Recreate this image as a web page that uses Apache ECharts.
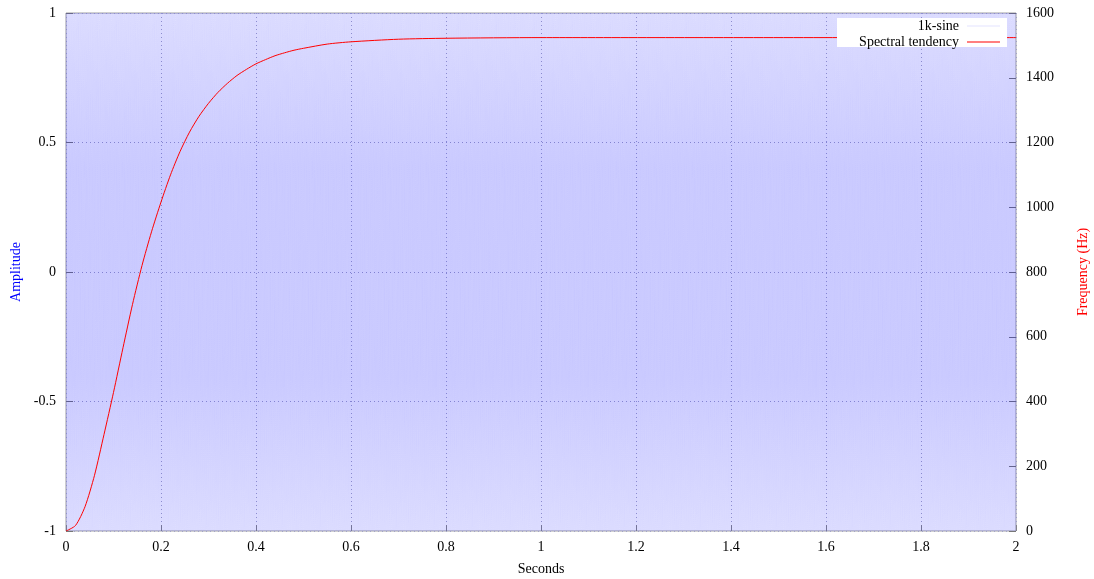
<!DOCTYPE html>
<html>
<head>
<meta charset="utf-8">
<script src="https://cdn.jsdelivr.net/npm/echarts@6/dist/echarts.min.js"></script>
<style>html,body{margin:0;padding:0;background:#fff}#c{width:1094px;height:579px}</style>
</head>
<body>
<div id="c"></div>
<script>
// ---- data ----
const xTicks = [0, 0.2, 0.4, 0.6, 0.8, 1, 1.2, 1.4, 1.6, 1.8, 2];
const ampTicks = [-1, -0.5, 0, 0.5, 1];
const freqTicks = [0, 200, 400, 600, 800, 1000, 1200, 1400, 1600];

// 1k-sine: one period swings 0 -> +1 -> 0 -> -1, 1000 cycles per second over 2 s
const sineCycleShape = [0, 1, 0, -1];
const sineCyclesPerSecond = 1000;
const sineDurationSeconds = 2;

// Spectral tendency (Hz) vs time (s)
const specTime = [0, 0.02, 0.04, 0.06, 0.08, 0.1, 0.12, 0.14, 0.16, 0.18, 0.2, 0.22, 0.24, 0.26, 0.28, 0.3, 0.32, 0.34, 0.36, 0.38, 0.4, 0.42, 0.44, 0.46, 0.48, 0.5, 0.55, 0.6, 0.7, 0.8, 1.0, 2.0];
const specHz   = [0, 17, 75, 172, 298, 428, 566, 700, 820, 924, 1016, 1100, 1172, 1232, 1281, 1321, 1355, 1383, 1407, 1426, 1443, 1456, 1468, 1477, 1485, 1491, 1504, 1511, 1519, 1522, 1524, 1524];

// ---- build series data ----
const sineData = [];
const nCycles = sineCyclesPerSecond * sineDurationSeconds;
const perCycle = sineCycleShape.length;
for (let c = 0; c < nCycles; c++) {
  for (let k = 0; k < perCycle; k++) {
    sineData.push([(c * perCycle + k) / (perCycle * sineCyclesPerSecond), sineCycleShape[k]]);
  }
}
sineData.push([sineDurationSeconds, sineCycleShape[0]]);
const specData = specTime.map((t, i) => [t, specHz[i]]);

const FONT = 'Liberation Serif';
const chart = echarts.init(document.getElementById('c'), null, {renderer: 'canvas'});
chart.setOption({
  animation: false,
  backgroundColor: '#ffffff',
  textStyle: {fontFamily: FONT},
  grid: {left: 66, right: 78, top: 13, bottom: 48, show: true, borderColor: '#a0a0a0', borderWidth: 1,
         backgroundColor: 'transparent', containLabel: false, outerBoundsMode: 'none'},
  graphic: [{
    type: 'rect', z: 5,
    shape: {x: 837, y: 18, width: 170, height: 29},
    style: {fill: '#ffffff'}
  }],
  legend: [{
    data: [{name: '1k-sine', itemStyle: {color: '#e4e4ff'}}],
    right: 94, top: 19, orient: 'vertical', align: 'right', z: 6,
    icon: 'rect', itemWidth: 33, itemHeight: 1, padding: 0,
    textStyle: {fontFamily: FONT, fontSize: 14, color: '#000', padding: [0, 3, 0, 0]},
    selectedMode: false
  }, {
    data: [{name: 'Spectral tendency', itemStyle: {color: '#ff0000'}}],
    right: 94, top: 35, orient: 'vertical', align: 'right', z: 6,
    icon: 'rect', itemWidth: 33, itemHeight: 1, padding: 0,
    textStyle: {fontFamily: FONT, fontSize: 14, color: '#000', padding: [0, 3, 0, 0]},
    selectedMode: false
  }],
  xAxis: {
    type: 'value', min: xTicks[0], max: xTicks[xTicks.length - 1], interval: 0.2,
    name: 'Seconds', nameLocation: 'middle', nameGap: 31,
    nameTextStyle: {fontFamily: FONT, fontSize: 14, color: '#000'},
    axisLine: {show: false, onZero: false},
    axisTick: {show: true, inside: true, length: 6, lineStyle: {color: '#888'}},
    axisLabel: {fontFamily: FONT, fontSize: 14, color: '#000', margin: 9},
    splitLine: {show: true, lineStyle: {type: [1, 3], color: '#a4a4c8', width: 1}}
  },
  yAxis: [{
    type: 'value', min: ampTicks[0], max: ampTicks[ampTicks.length - 1], interval: 0.5,
    position: 'left',
    name: 'Amplitude', nameLocation: 'middle', nameGap: 40, nameRotate: 90,
    nameTextStyle: {fontFamily: FONT, fontSize: 14, color: '#0000ff'},
    axisLine: {show: false, onZero: false},
    axisTick: {show: true, inside: true, length: 7, lineStyle: {color: '#777'}},
    axisLabel: {fontFamily: FONT, fontSize: 14, color: '#000', margin: 10},
    splitLine: {show: true, lineStyle: {type: [1, 3], color: '#a4a4c8', width: 1}}
  }, {
    type: 'value', min: freqTicks[0], max: freqTicks[freqTicks.length - 1], interval: 200,
    position: 'right',
    name: 'Frequency (Hz)', nameLocation: 'middle', nameGap: 60, nameRotate: 90,
    nameTextStyle: {fontFamily: FONT, fontSize: 14, color: '#ff0000'},
    axisLine: {show: false, onZero: false},
    axisTick: {show: true, inside: true, length: 7, lineStyle: {color: '#777'}},
    axisLabel: {fontFamily: FONT, fontSize: 14, color: '#000', margin: 10, formatter: v => String(v)},
    splitLine: {show: false}
  }],
  series: [{
    name: '1k-sine', type: 'line', yAxisIndex: 0, data: sineData,
    showSymbol: false, symbol: 'none', sampling: null, silent: true, z: 1,
    lineStyle: {width: 1, color: new echarts.graphic.LinearGradient(0, 0, 0, 1, [
      {offset: 0, color: 'rgba(0,0,255,0.036)'},
      {offset: 0.3, color: 'rgba(0,0,255,0.054)'},
      {offset: 0.7, color: 'rgba(0,0,255,0.054)'},
      {offset: 1, color: 'rgba(0,0,255,0.036)'}
    ])},
    itemStyle: {color: '#e4e4ff'}
  }, {
    name: 'Spectral tendency', type: 'line', yAxisIndex: 1, data: specData,
    showSymbol: false, symbol: 'none', smooth: 0.25, silent: true, z: 2,
    lineStyle: {width: 1, color: '#ff0000'},
    itemStyle: {color: '#ff0000'}
  }]
});
</script>
</body>
</html>
